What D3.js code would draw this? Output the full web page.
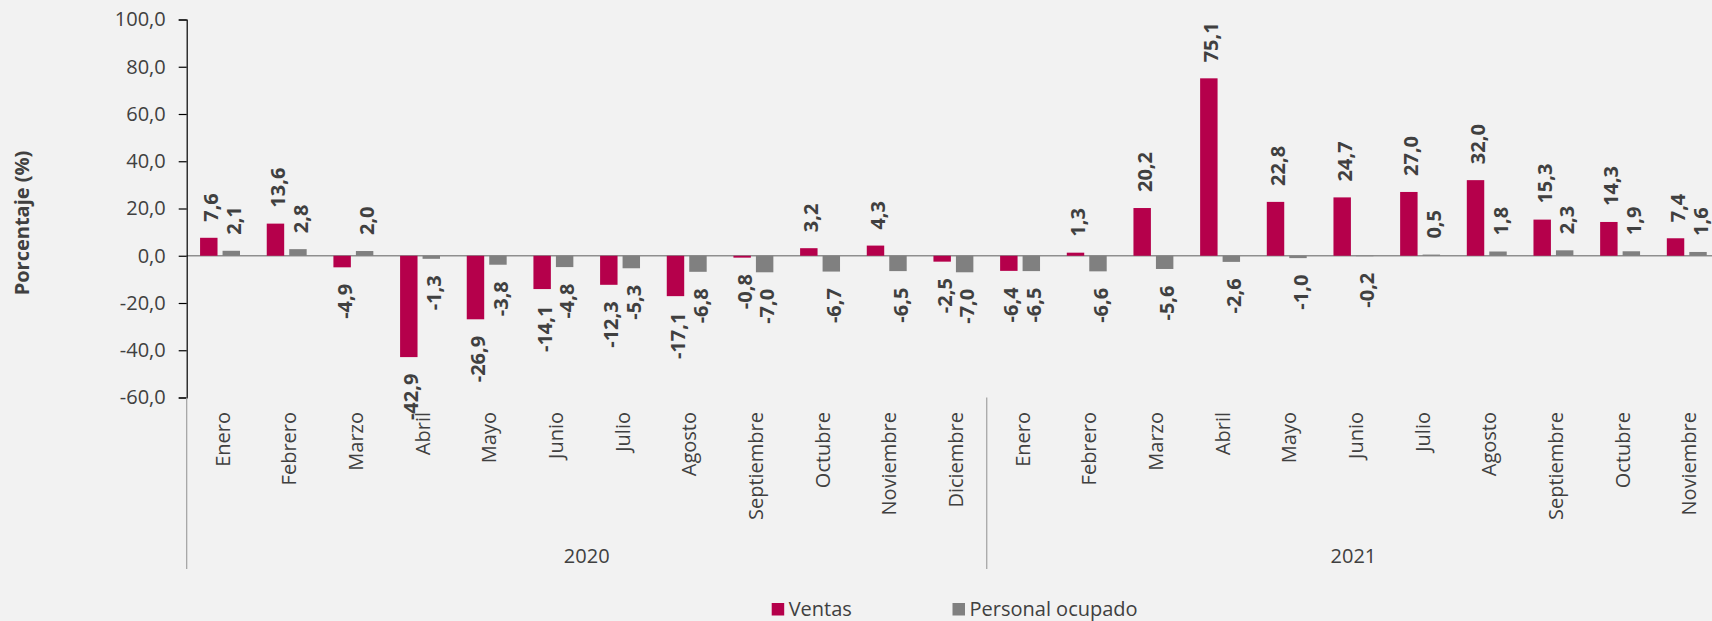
<!DOCTYPE html>
<html>
<head>
<meta charset="utf-8">
<script src="https://cdn.jsdelivr.net/npm/d3@7"></script>
<style>
  html, body { margin: 0; padding: 0; background: #f2f2f2; }
  svg { display: block; font-family: "Open Sans", "Noto Sans", sans-serif; }
</style>
</head>
<body>
<svg id="chart" width="1712" height="621"></svg>
<script>
// ---- Data ----
const months = ["Enero","Febrero","Marzo","Abril","Mayo","Junio","Julio","Agosto","Septiembre","Octubre","Noviembre","Diciembre",
                "Enero","Febrero","Marzo","Abril","Mayo","Junio","Julio","Agosto","Septiembre","Octubre","Noviembre"];
const years = ["2020","2021"];
const yearOf = [0,0,0,0,0,0,0,0,0,0,0,0, 1,1,1,1,1,1,1,1,1,1,1];
const ventas = [7.6, 13.6, -4.9, -42.9, -26.9, -14.1, -12.3, -17.1, -0.8, 3.2, 4.3, -2.5,
                -6.4, 1.3, 20.2, 75.1, 22.8, 24.7, 27.0, 32.0, 15.3, 14.3, 7.4];
const personal = [2.1, 2.8, 2.0, -1.3, -3.8, -4.8, -5.3, -6.8, -7.0, -6.7, -6.5, -7.0,
                  -6.5, -6.6, -5.6, -2.6, -1.0, -0.2, 0.5, 1.8, 2.3, 1.9, 1.6];
const seriesNames = ["Ventas", "Personal ocupado"];
const seriesColors = ["#b5004b", "#808080"];
const yTicks = [-60, -40, -20, 0, 20, 40, 60, 80, 100];
const yTitle = "Porcentaje (%)";

(function () {
  // ---- Layout ----
  const svg = d3.select("#chart");
  const plotLeft = 186.7, catW = 66.67;
  const plotTop = 19.5, plotBottom = 397.5;
  const textColor = "#404040";

  const idx = d3.range(months.length);
  const x = d3.scaleBand().domain(idx).range([plotLeft, plotLeft + catW * months.length]).paddingInner(0).paddingOuter(0);
  const xs = d3.scaleBand().domain(seriesNames).range([0, x.bandwidth()]).paddingInner(0.224).paddingOuter(0.595);
  const y = d3.scaleLinear().domain([-60, 100]).range([plotBottom, plotTop]);
  const fmt = v => d3.format(".1f")(v).replace(".", ",").replace("\u2212", "-");

  // zero line
  svg.append("line")
    .attr("x1", plotLeft).attr("x2", 1712)
    .attr("y1", y(0)).attr("y2", y(0))
    .attr("stroke", "#8f8f8f").attr("stroke-width", 1.6);

  // bars
  const data = [];
  idx.forEach(i => {
    data.push({i, s: seriesNames[0], v: ventas[i], c: seriesColors[0]});
    data.push({i, s: seriesNames[1], v: personal[i], c: seriesColors[1]});
  });

  svg.append("g").selectAll("rect").data(data).join("rect")
    .attr("x", d => x(d.i) + xs(d.s))
    .attr("width", xs.bandwidth())
    .attr("y", d => y(Math.max(0, d.v)))
    .attr("height", d => Math.abs(y(d.v) - y(0)))
    .attr("fill", d => d.c);

  // data labels
  svg.append("g").selectAll("text").data(data).join("text")
    .each(function(d) {
      const cx = x(d.i) + xs(d.s) + xs.bandwidth() / 2;
      const pos = d.v >= 0;
      const ty = pos ? y(d.v) - 16 : y(d.v) + 16.5;
      d3.select(this)
        .attr("x", cx).attr("y", ty)
        .attr("transform", `rotate(-90,${cx},${ty})`)
        .attr("text-anchor", pos ? "start" : "end")
        .attr("dy", "0.48em");
    })
    .attr("font-size", 20).attr("font-weight", "bold")
    .attr("fill", textColor)
    .text(d => fmt(d.v));

  // y axis
  const yAxis = d3.axisLeft(y).tickValues(yTicks).tickSize(8).tickPadding(13).tickFormat(fmt);
  const gy = svg.append("g").attr("transform", `translate(${plotLeft},0)`).call(yAxis);
  gy.select(".domain").attr("stroke", "#000").attr("stroke-width", 1.2);
  gy.selectAll(".tick line").attr("stroke", "#000").attr("stroke-width", 1.2);
  gy.selectAll(".tick text").attr("font-size", 20).attr("fill", textColor)
    .attr("font-family", "Open Sans, sans-serif");

  // y title
  svg.append("text")
    .attr("transform", "translate(28.5,223) rotate(-90)")
    .attr("text-anchor", "middle")
    .attr("font-size", 20).attr("font-weight", "bold").attr("fill", textColor)
    .text(yTitle);

  // month labels
  svg.append("g").selectAll("text").data(idx).join("text")
    .each(function(i) {
      const cx = x(i) + x.bandwidth() / 2, ty = 412;
      d3.select(this).attr("x", cx).attr("y", ty)
        .attr("transform", `rotate(-90,${cx},${ty})`);
    })
    .attr("text-anchor", "end").attr("dy", "0.48em")
    .attr("font-size", 20).attr("fill", textColor)
    .text(i => months[i]);

  // group separators
  const groupBounds = years.map((yr, k) => {
    const members = idx.filter(i => yearOf[i] === k);
    return {yr, x0: x(members[0]), x1: x(members[members.length - 1]) + x.bandwidth()};
  });
  const sepX = [groupBounds[0].x0, ...groupBounds.map(g => g.x1)];
  svg.append("g").selectAll("line").data(sepX).join("line")
    .attr("x1", d => d).attr("x2", d => d)
    .attr("y1", plotBottom).attr("y2", 569)
    .attr("stroke", "#a0a0a0").attr("stroke-width", 1.2);

  // year labels
  svg.append("g").selectAll("text").data(groupBounds).join("text")
    .attr("x", d => (d.x0 + d.x1) / 2)
    .attr("y", 563.3)
    .attr("text-anchor", "middle")
    .attr("font-size", 20).attr("fill", textColor)
    .text(d => d.yr);

  // legend
  const legendX = [771.7, 952.5];
  const lg = svg.append("g").selectAll("g").data(seriesNames).join("g")
    .attr("transform", (d, k) => `translate(${legendX[k]},603)`);
  lg.append("rect").attr("width", 12.5).attr("height", 12.5).attr("fill", (d, k) => seriesColors[k]);
  lg.append("text").attr("x", 17).attr("y", 13)
    .attr("font-size", 20).attr("fill", textColor).text(d => d);
})();
</script>
</body>
</html>
